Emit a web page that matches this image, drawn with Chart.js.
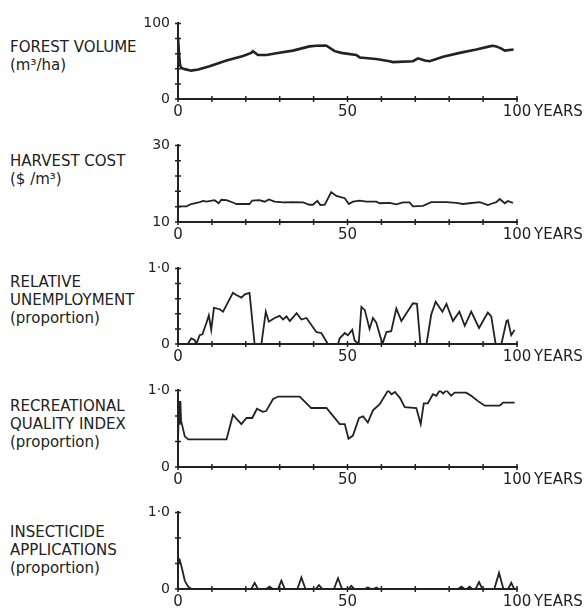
<!DOCTYPE html>
<html>
<head>
<meta charset="utf-8">
<script src="https://cdn.jsdelivr.net/npm/chart.js@4/dist/chart.umd.min.js"></script>
<style>
  body { margin: 0; background: #fff; }
  #wrap { position: relative; width: 588px; height: 614px; overflow: hidden; }
  .panel { position: absolute; left: 0; width: 588px; }
  .lbl {
    position: absolute; left: 10px;
    font: 15px/18px "DejaVu Sans", sans-serif; color: #222;
    white-space: nowrap;
  }
</style>
</head>
<body>
<div id="wrap">
  <div class="lbl" style="top:38px">FOREST VOLUME<br>(m³/ha)</div>
  <div class="lbl" style="top:152px">HARVEST COST<br>($ /m³)</div>
  <div class="lbl" style="top:273px">RELATIVE<br>UNEMPLOYMENT<br>(proportion)</div>
  <div class="lbl" style="top:397px">RECREATIONAL<br>QUALITY INDEX<br>(proportion)</div>
  <div class="lbl" style="top:523px">INSECTICIDE<br>APPLICATIONS<br>(proportion)</div>
</div>
<script>
// years along the bottom axis
const yearTicks = [0, 10, 20, 30, 40, 50, 60, 70, 80, 90, 100];

// forest volume (m3/ha)
const forestYears = [0, 0.3, 0.6, 1, 2, 3.9, 6, 9.3, 14.3, 19.2, 21.6, 22.1, 23.6, 26.1, 29, 33.9, 38.8, 40.8, 43.3, 43.8,
  46.2, 48.2, 49.7, 52.6, 53.6, 58.5, 62.4, 63.4, 69.3, 70.8, 72.8, 74.2, 76.2, 78.2, 83.1, 88, 91.9, 92.9, 93.9, 95.4, 96.4, 99];
const forestVolume = [82, 60, 45, 41, 39.5, 37.5, 39, 43.3, 50.8, 57, 61, 63.3, 58.3, 58.3, 60.4, 64, 69.6, 70.4, 70.8, 70.4,
  63.3, 61, 60, 58.3, 55, 53, 50, 48.8, 50, 53.8, 50.8, 50, 53, 56, 61, 65.4, 69.6, 70.4, 69.6, 66.7, 64, 65.4];

// harvest cost ($/m3)
const harvestYears = [0, 2.5, 3.9, 6.4, 7.4, 8.4, 10.8, 12, 12.8, 14.3, 16.2, 17.2, 21.1, 21.9, 24, 25.6, 26.8, 28.5, 31, 33.9,
  36.9, 38.8, 39.8, 41.1, 42, 43.3, 45.2, 46.7, 49.2, 50.4, 51.6, 53.6, 55.6, 58.5, 59.5, 62.4, 64.4, 66.4, 68.3, 69.3,
  72.3, 74.7, 79.2, 82.1, 84, 86, 89, 91.4, 92.9, 93.9, 94.9, 96.4, 97.3, 98.8];
const harvestCost = [14.1, 14.1, 14.7, 15.2, 15.5, 15.3, 15.7, 14.9, 15.8, 15.7, 15.1, 14.7, 14.7, 15.6, 15.7, 15.3, 15.9, 15.3, 15.1, 15.2,
  15.1, 14.5, 14.5, 15.5, 14.4, 14.5, 17.8, 16.8, 16.2, 14.7, 15.3, 15.6, 15.3, 15.3, 14.9, 15.0, 14.6, 15.1, 15.1, 14.1,
  14.2, 15.2, 15.2, 15.0, 14.7, 14.9, 15.2, 14.4, 14.9, 15.2, 16.0, 14.9, 15.5, 15.0];

// relative unemployment (proportion)
const unempYears = [0, 2.9, 3.9, 4.9, 5.4, 6.4, 7.2, 8.4, 9.1, 9.8, 10.6, 12.3, 13.3, 16.2, 17.2, 18.7, 19.7, 21.1, 22.6, 24.6,
  25.9, 26.8, 28.5, 30, 31, 32, 33, 35, 36.4, 37.9, 40.8, 42.3, 44.2, 47.2, 47.7, 49.2, 50.1, 51.4, 52.1, 53.3,
  54.1, 55.1, 56.5, 57.5, 58.5, 60.3, 61.5, 62.9, 64.4, 65.9, 69.3, 70.5, 71.5, 73.3, 74.7, 76, 78, 79.2, 81.1, 83,
  84.6, 86.5, 88.8, 91.4, 92.4, 93.7, 95.4, 96.9, 97.3, 98.3, 99.3];
const unemployment = [0, 0, 0.075, 0.054, 0, 0.116, 0.129, 0.28, 0.378, 0.187, 0.477, 0.46, 0.427, 0.676, 0.647, 0.614, 0.656, 0.676, 0, 0,
  0.427, 0.295, 0.344, 0.373, 0.324, 0.365, 0.303, 0.407, 0.324, 0.344, 0.158, 0.145, 0, 0, 0.075, 0.145, 0.116, 0.187, 0.046, 0,
  0.49, 0.448, 0.199, 0.344, 0.282, 0, 0.158, 0.17, 0.469, 0.303, 0.539, 0.531, 0, 0, 0.39, 0.56, 0.427, 0.531, 0.303, 0.427,
  0.241, 0.427, 0.212, 0.415, 0.365, 0, 0, 0.303, 0.315, 0.116, 0.187];

// recreational quality index (proportion)
const recYears = [0, 0.3, 0.5, 0.7, 0.9, 1.2, 2, 3, 14.3, 16.2, 18.7, 20.2, 21.9, 23.3, 25, 26, 28, 29.5,
  35.9, 39.3, 43.8, 47.7, 49.2, 50.3, 51.6, 53.4, 54.6, 56, 57.5, 59.5, 62, 63, 64, 65.5, 66.9, 70.3, 71.6, 72.5,
  73.7, 75.2, 76.2, 77.2, 78.2, 79.2, 80.6, 81.6, 85, 86.5, 88.5, 90.5, 94.9, 95.9, 99.3];
const recIndex = [0.33, 0.86, 0.55, 0.86, 0.6, 0.55, 0.4, 0.36, 0.36, 0.68, 0.56, 0.64, 0.64, 0.76, 0.72, 0.73, 0.885, 0.92,
  0.92, 0.77, 0.77, 0.56, 0.56, 0.37, 0.41, 0.64, 0.66, 0.58, 0.74, 0.82, 1.0, 0.95, 0.98, 0.9, 0.78, 0.77, 0.56, 0.83,
  0.83, 0.95, 0.93, 1.0, 0.96, 1.0, 0.93, 0.97, 0.97, 0.93, 0.86, 0.8, 0.8, 0.84, 0.84];

// insecticide applications (proportion)
const insectYears = [0, 0.5, 1, 2, 3, 4, 21.6, 22.6, 23.6, 26, 27, 28, 29.5, 30.5, 31.5, 35.2, 36.4, 37.6,
  40.6, 41.6, 42.6, 46, 47.2, 48.4, 50.3, 51.1, 52, 55, 56, 57, 57.7, 58.5, 59.3, 82.6, 83.6, 84.6,
  85.2, 86, 86.8, 87.8, 88.8, 89.8, 93.3, 94.7, 96, 97.4, 98.3, 99.2];
const insectApps = [0.34, 0.38, 0.3, 0.11, 0.03, 0, 0, 0.08, 0, 0, 0.03, 0, 0, 0.11, 0, 0, 0.15, 0,
  0, 0.05, 0, 0, 0.14, 0, 0, 0.04, 0, 0, 0.02, 0, 0, 0.02, 0, 0, 0.03, 0,
  0, 0.03, 0, 0, 0.09, 0, 0, 0.21, 0, 0, 0.08, 0];

const INK = '#222';
const FONT = '"DejaVu Sans", sans-serif';

// small "+" ticks across both axes, plus the YEARS word after the last label
const crossTicks = {
  id: 'crossTicks',
  afterDraw(chart) {
    const { ctx, chartArea, scales } = chart;
    const xs = scales.x, ys = scales.y;
    ctx.save();
    ctx.strokeStyle = INK;
    ctx.lineWidth = 1.5;
    ctx.beginPath();
    xs.ticks.forEach(t => {
      const px = xs.getPixelForValue(t.value);
      ctx.moveTo(px, chartArea.bottom - 3);
      ctx.lineTo(px, chartArea.bottom + 3);
    });
    ys.ticks.forEach(t => {
      const py = ys.getPixelForValue(t.value);
      ctx.moveTo(chartArea.left - 3, py);
      ctx.lineTo(chartArea.left + 3, py);
    });
    ctx.stroke();
    ctx.fillStyle = INK;
    ctx.font = '15px ' + FONT;
    ctx.textAlign = 'left';
    ctx.textBaseline = 'middle';
    ctx.fillText('YEARS', chartArea.right + 17, chartArea.bottom + 13);
    ctx.restore();
  }
};

function makePanel(top, height, xs, ys, yMin, yMax, yTicks, yLabels, lineWidth) {
  const box = document.createElement('div');
  box.className = 'panel';
  box.style.top = (top - 12) + 'px';
  const canvas = document.createElement('canvas');
  canvas.width = 588;
  canvas.height = height + 36;
  box.appendChild(canvas);
  document.getElementById('wrap').appendChild(box);

  new Chart(canvas.getContext('2d'), {
    type: 'line',
    data: {
      datasets: [{
        data: xs.map((x, i) => ({ x: x, y: ys[i] })),
        borderColor: INK,
        borderWidth: lineWidth,
        pointRadius: 0,
        tension: 0,
        fill: false
      }]
    },
    options: {
      responsive: false,
      animation: false,
      layout: { padding: { left: 138, right: 71, top: 12, bottom: 0 } },
      plugins: { legend: { display: false }, tooltip: { enabled: false } },
      scales: {
        x: {
          type: 'linear',
          min: 0,
          max: 100,
          afterBuildTicks: s => { s.ticks = yearTicks.map(v => ({ value: v })); },
          afterFit: s => { s.height = 24; },
          grid: { drawOnChartArea: false, drawTicks: false },
          border: { color: INK, width: 2 },
          ticks: {
            autoSkip: false,
            maxRotation: 0,
            padding: 4,
            color: INK,
            font: { family: FONT, size: 15 },
            callback: v => (v === 0 || v === 50 || v === 100) ? String(v) : ''
          }
        },
        y: {
          min: yMin,
          max: yMax,
          afterBuildTicks: s => { s.ticks = yTicks.map(v => ({ value: v })); },
          afterFit: s => { s.width = 40; },
          grid: { drawOnChartArea: false, drawTicks: false },
          border: { color: INK, width: 2 },
          ticks: {
            autoSkip: false,
            padding: 8,
            color: INK,
            font: { family: FONT, size: 14 },
            callback: v => v === yMax ? yLabels[1] : (v === yMin ? yLabels[0] : '')
          }
        }
      }
    },
    plugins: [crossTicks]
  });
}

makePanel(19, 80, forestYears, forestVolume, 0, 100, [0, 20, 40, 60, 80, 100], ['0', '100'], 2.6);
makePanel(141, 81, harvestYears, harvestCost, 10, 30, [10, 14, 18, 22, 26, 30], ['10', '30'], 1.8);
makePanel(264, 80, unempYears, unemployment, 0, 1, [0, 0.2, 0.4, 0.6, 0.8, 1], ['0', '1·0'], 1.8);
makePanel(386, 81, recYears, recIndex, 0, 1, [0, 1 / 3, 2 / 3, 1], ['0', '1·0'], 1.8);
makePanel(508, 81, insectYears, insectApps, 0, 1, [0, 1 / 3, 2 / 3, 1], ['0', '1·0'], 1.8);
</script>
</body>
</html>
